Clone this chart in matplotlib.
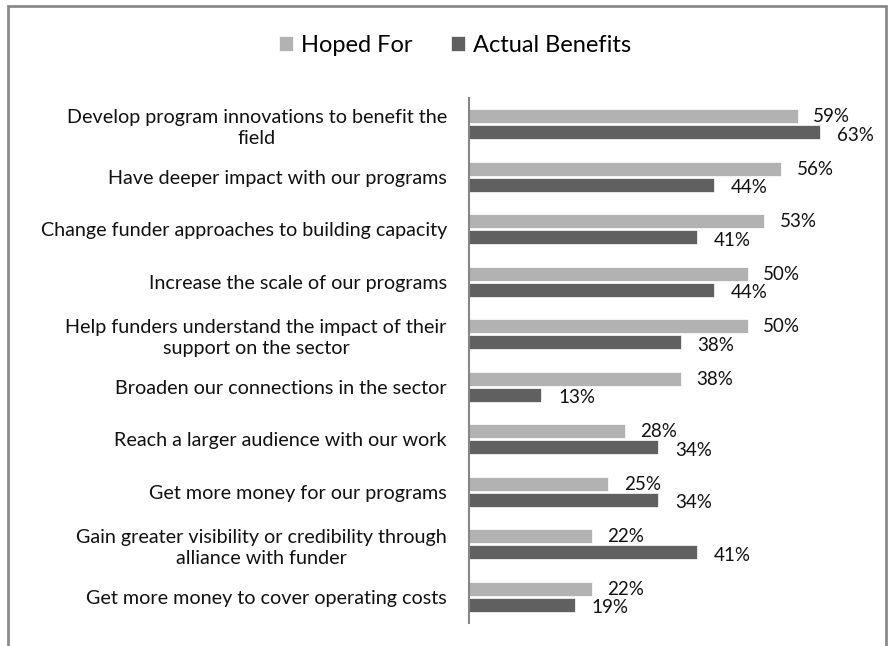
import numpy as np
import matplotlib.pyplot as plt
from matplotlib.patches import Rectangle

plt.rcParams['font.family'] = ['Lato', 'DejaVu Sans']

categories = [
    'Develop program innovations to benefit the\nfield',
    'Have deeper impact with our programs',
    'Change funder approaches to building capacity',
    'Increase the scale of our programs',
    'Help funders understand the impact of their\nsupport on the sector',
    'Broaden our connections in the sector',
    'Reach a larger audience with our work',
    'Get more money for our programs',
    'Gain greater visibility or credibility through\nalliance with funder',
    'Get more money to cover operating costs',
]
hoped = [59, 56, 53, 50, 50, 38, 28, 25, 22, 22]
actual = [63, 44, 41, 44, 38, 13, 34, 34, 41, 19]

light = '#b2b2b2'
dark = '#606060'

W, H = 889, 646
fig = plt.figure(figsize=(W / 100, H / 100), dpi=100)

# axes placed in pixel terms: zero at x=469, top at y=98, bottom at y=623
x0, x1 = 469, 859
ytop, ybot = 98, 623
ax = fig.add_axes([x0 / W, 1 - ybot / H, (x1 - x0) / W, (ybot - ytop) / H])

y = np.arange(len(categories))
h = 0.27
ax.barh(y - h / 2 - 0.02, hoped, height=h, color=light, edgecolor='white', linewidth=0.5, label='Hoped For')
ax.barh(y + h / 2 + 0.02, actual, height=h, color=dark, edgecolor='white', linewidth=0.5, label='Actual Benefits')

for i in range(len(categories)):
    ax.text(hoped[i] + 2.8, y[i] - h / 2 - 0.01, f'{hoped[i]}%', va='center', ha='left', fontsize=13.5, color='#111111')
    ax.text(actual[i] + 3.0, y[i] + h / 2 + 0.07, f'{actual[i]}%', va='center', ha='left', fontsize=13.5, color='#111111')

ax.set_xlim(0, 70)
ax.set_ylim(len(categories) - 0.5, -0.5)
ax.set_yticks(y)
ax.set_yticklabels(categories, fontsize=14.2, multialignment='center', color='#111111', linespacing=1.3)
ax.tick_params(axis='y', length=0, pad=16)
ax.set_xticks([])
for s in ['top', 'right', 'bottom']:
    ax.spines[s].set_visible(False)
ax.spines['left'].set_color('#868686')
ax.spines['left'].set_linewidth(1.5)

fig.legend(loc='center', bbox_to_anchor=(455 / W, 1 - 45 / H), ncol=2, frameon=False,
           fontsize=17, handlelength=0.6, handleheight=0.6, handletextpad=0.35, columnspacing=1.6)

# outer border, open at the bottom edge
fig.patches.append(Rectangle((8 / W, -0.05), (886 - 8) / W, 1.05 - 6 / H, transform=fig.transFigure,
                             fill=False, edgecolor='#8a8a8a', linewidth=2))

fig.savefig('out.png', dpi=100)
